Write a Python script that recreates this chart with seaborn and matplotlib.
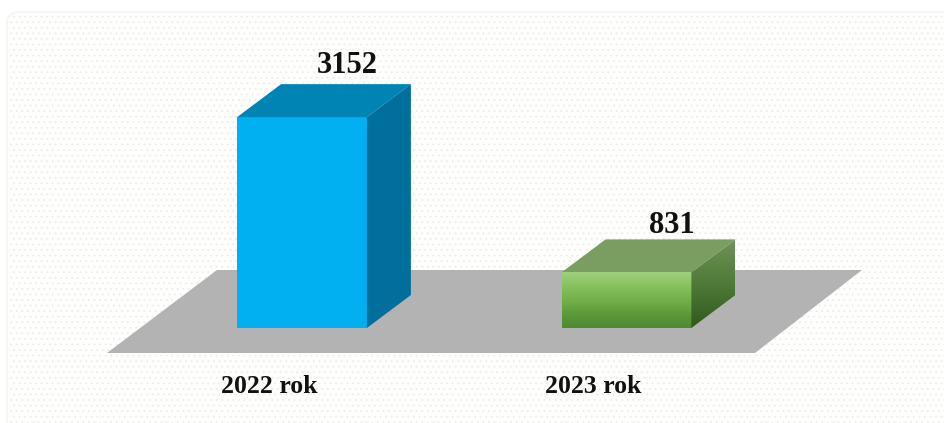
import numpy as np
import pandas as pd
import matplotlib
matplotlib.use('Agg')
import matplotlib.pyplot as plt
from matplotlib.colors import LinearSegmentedColormap
from matplotlib.patches import FancyBboxPatch, Polygon
import seaborn as sns

# values
years = ['2022 rok', '2023 rok']
values = [3152, 831]
bar_colors = ['#00b0f0', '#7ab648']
top_colors = ['#0084b4', '#7a9d62']
side_colors = ['#006f9c', 'none']

df = pd.DataFrame({'year': years, 'value': values})

sns.set_theme(style='white')
plt.rcParams['font.family'] = ['Liberation Serif', 'DejaVu Serif']
plt.rcParams['hatch.linewidth'] = 0.6

W, H = 944, 423
fig = plt.figure(figsize=(W / 100, H / 100), dpi=100, facecolor='white')
ax = fig.add_axes([0, 0, 1, 1])

# scales: pixels per category / per unit, baseline at y=328 and first bar at x=302
px_cat = 324.5
px_val = 0.0669
xlim = (-302 / px_cat, (W - 302) / px_cat)
ylim = (-(H - 328) / px_val, 328 / px_val)

# 3d depth of the boxes, in data units
dx = 44 / px_cat
dy = 33 / px_val


def px(x, y):
    # reference pixel to data, for the decoration only
    return ((x - 302) / px_cat, (328 - y) / px_val)


# rounded panel with the dotted texture, runs off the right and bottom
panel = FancyBboxPatch((7, H - 440), 953, 428, boxstyle='round,pad=0,rounding_size=12',
                       transform=None, facecolor='#fefefd', edgecolor='#f3f3ef',
                       linewidth=1.0, zorder=0)
ax.add_patch(panel)
dots = FancyBboxPatch((9, H - 440), 953, 426, boxstyle='round,pad=0,rounding_size=12',
                      transform=None, facecolor='none', edgecolor='#ecece9',
                      hatch='...', linewidth=0, zorder=0.5)
ax.add_patch(dots)

# grey floor
floor = [px(107, 353), px(755, 353), px(862, 270), px(217, 270)]
ax.add_patch(Polygon(floor, closed=True, facecolor='#b3b3b3', edgecolor='none', zorder=1))

sns.barplot(data=df, x='year', y='value', hue='year', palette=bar_colors, legend=False,
            width=0.4, saturation=1, linewidth=0, ax=ax, zorder=3)
bars = [p for p in ax.patches if p.get_zorder() == 3 and p.get_height() > 0]

# the green box has a vertical gradient on its front and side
cm_front = LinearSegmentedColormap.from_list(
    'front', ['#a0cf7e', '#86c25c', '#74b04a', '#5c9a3a', '#4f8a33'])
cm_side = LinearSegmentedColormap.from_list('side', ['#6f9358', '#4f7a38', '#2f5a1e'])
grad = np.linspace(0, 1, 64).reshape(-1, 1)

# value labels sit at slightly different heights over the two boxes
label_lift = [11, 6]

for i, bar in enumerate(bars):
    x = bar.get_x()
    w = bar.get_width()
    h = bar.get_height()
    ax.add_patch(Polygon([(x, h), (x + w, h), (x + w + dx, h + dy), (x + dx, h + dy)],
                         facecolor=top_colors[i], edgecolor='none', zorder=3))
    side = Polygon([(x + w, 0), (x + w + dx, dy), (x + w + dx, h + dy), (x + w, h)],
                   facecolor=side_colors[i], edgecolor='none', zorder=3)
    ax.add_patch(side)
    if i == 1:
        im = ax.imshow(grad, cmap=cm_front, aspect='auto', extent=(x, x + w, 0, h), zorder=3.1)
        im.set_clip_path(bar)
        im2 = ax.imshow(grad, cmap=cm_side, aspect='auto',
                        extent=(x + w, x + w + dx, 0, h + dy), zorder=3.1)
        im2.set_clip_path(side)

    # value over the box, year under the floor
    ax.annotate(str(values[i]), xy=(i, h + dy), xytext=(45, label_lift[i]),
                textcoords='offset pixels', ha='center', va='baseline', fontsize=22,
                fontweight='bold', color='#111111', zorder=5)
    ax.annotate(years[i], xy=(i, 0), xytext=(-33, -65), textcoords='offset pixels',
                ha='center', va='baseline', fontsize=18.5, fontweight='bold',
                color='#111111', zorder=5)

ax.set_xlim(xlim)
ax.set_ylim(ylim)
ax.axis('off')

fig.savefig('out.png', dpi=100)
